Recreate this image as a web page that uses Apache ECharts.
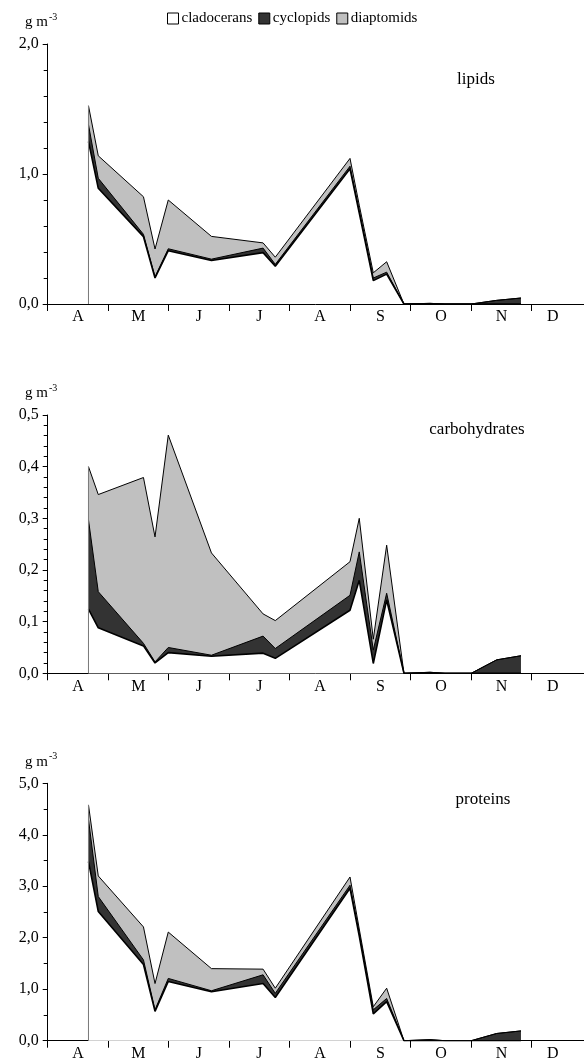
<!DOCTYPE html>
<html>
<head>
<meta charset="utf-8">
<script src="https://cdn.jsdelivr.net/npm/echarts@6/dist/echarts.min.js"></script>
<style>
  html, body { margin: 0; padding: 0; background: #fff; }
  #chart { width: 584px; height: 1062px; }
</style>
</head>
<body>
<div id="chart"></div>
<script>
// ---- data ----
const months = ['A', 'M', 'J', 'J', 'A', 'S', 'O', 'N', 'D'];
// sampling dates, in months since 1 April
const dates = [0.674, 0.836, 1.583, 1.774, 1.993, 2.707, 3.56, 3.762, 4.997, 5.15, 5.382, 5.603, 5.889, 6.319, 6.567, 7.0, 7.421, 7.823];

const groups = ['cladocerans', 'cyclopids', 'diaptomids'];

// lipids, g m-3
const lipidsClad = [1.25, 0.89, 0.518, 0.20, 0.41, 0.335, 0.395, 0.29, 1.04, 0.70, 0.18, 0.23, 0, 0, 0, 0, 0, 0];
const lipidsCycl = [0.13, 0.077, 0.018, 0.01, 0.015, 0.01, 0.035, 0.015, 0.02, 0.02, 0.02, 0.015, 0, 0.005, 0, 0, 0.028, 0.046];
const lipidsDiap = [0.145, 0.173, 0.289, 0.213, 0.375, 0.175, 0.04, 0.055, 0.06, 0.04, 0.04, 0.08, 0, 0, 0, 0, 0, 0];

// carbohydrates, g m-3
const carbClad = [0.124, 0.088, 0.053, 0.02, 0.040, 0.033, 0.039, 0.029, 0.122, 0.18, 0.019, 0.142, 0, 0, 0, 0, 0, 0];
const carbCycl = [0.173, 0.07, 0.005, 0.002, 0.010, 0.002, 0.033, 0.019, 0.029, 0.055, 0.026, 0.013, 0, 0.002, 0, 0, 0.026, 0.034];
const carbDiap = [0.103, 0.188, 0.321, 0.242, 0.411, 0.198, 0.043, 0.054, 0.065, 0.065, 0.021, 0.093, 0, 0, 0, 0, 0, 0];

// proteins, g m-3
const protClad = [3.48, 2.51, 1.48, 0.57, 1.15, 0.95, 1.11, 0.84, 2.96, 2.03, 0.52, 0.76, 0, 0, 0, 0, 0, 0];
const protCycl = [0.82, 0.29, 0.09, 0.03, 0.06, 0.02, 0.17, 0.08, 0.06, 0.06, 0.08, 0.06, 0, 0.02, 0, 0, 0.14, 0.19];
const protDiap = [0.28, 0.40, 0.64, 0.51, 0.90, 0.43, 0.11, 0.10, 0.16, 0.08, 0.06, 0.20, 0, 0, 0, 0, 0, 0];

// axis settings
const yMax = [2, 0.5, 5];
const yStep = [1, 0.1, 1];
const yMinorSplit = [5, 5, 2];
const panelNames = ['lipids', 'carbohydrates', 'proteins'];

// ---- styles ----
const FONT = 'Liberation Serif';
const fills = { cladocerans: '#ffffff', cyclopids: '#333333', diaptomids: '#c0c0c0' };
const gridTops = [44, 415, 783.3];
const gridHeights = [260, 258.3, 257.4];
const GRID_LEFT = 47.7;
const X_MAX = 8.86;
const GRID_W = 536;

const panels = [
  [lipidsClad, lipidsCycl, lipidsDiap],
  [carbClad, carbCycl, carbDiap],
  [protClad, protCycl, protDiap]
];

const grids = [], xAxes = [], yAxes = [], series = [], graphics = [];

panels.forEach((p, k) => {
  grids.push({ left: GRID_LEFT, top: gridTops[k], width: GRID_W, height: gridHeights[k] });
  const tickVals = months.map((m, i) => i);
  const labelVals = months.map((m, i) => (i < months.length - 1 ? i + 0.5 : i + 0.35));
  xAxes.push({
    type: 'value', gridIndex: k, min: 0, max: X_MAX,
    axisLine: { show: true, lineStyle: { color: '#000', width: 1 } },
    axisTick: { show: true, customValues: tickVals, length: 7, lineStyle: { color: '#000' } },
    axisLabel: {
      customValues: labelVals, margin: 5,
      formatter: v => months[Math.floor(v)],
      fontFamily: FONT, fontSize: 16, color: '#000'
    },
    splitLine: { show: false }
  });
  yAxes.push({
    type: 'value', gridIndex: k, min: 0, max: yMax[k], interval: yStep[k],
    axisLine: { show: true, lineStyle: { color: '#000', width: 1 } },
    axisTick: { show: true, length: 5, lineStyle: { color: '#000' } },
    minorTick: { show: true, splitNumber: yMinorSplit[k], length: 4, lineStyle: { color: '#000' } },
    axisLabel: {
      formatter: v => v.toFixed(1).replace('.', ','),
      margin: 9, fontFamily: FONT, fontSize: 16, color: '#000'
    },
    splitLine: { show: false }, minorSplitLine: { show: false }
  });

  const [clad, cycl, diap] = p;
  const cumClad = clad.slice();
  const cumCycl = clad.map((v, i) => v + cycl[i]);
  const cumTot = cumCycl.map((v, i) => v + diap[i]);
  const toPts = arr => dates.map((d, i) => [d, arr[i]]);

  const layers = [
    ['diaptomids', cumTot, 1],
    ['cyclopids', cumCycl, 1],
    ['cladocerans', cumClad, 1.6]
  ];
  layers.forEach(([name, arr, w]) => {
    series.push({
      name, type: 'line', xAxisIndex: k, yAxisIndex: k,
      data: toPts(arr), symbol: 'none', silent: true,
      lineStyle: { color: '#000', width: w },
      itemStyle: { color: fills[name] },
      areaStyle: { color: fills[name], opacity: 1 }
    });
  });
  // left edge of first sample
  series.push({
    name: 'edge' + k, type: 'line', xAxisIndex: k, yAxisIndex: k,
    data: [[dates[0], 0], [dates[0], cumTot[0]]], symbol: 'none', silent: true,
    lineStyle: { color: '#7a7a7a', width: 1 }
  });

  // panel title
  graphics.push({
    type: 'text', x: [476, 477, 483][k], y: [80, 430, 800][k],
    style: { text: panelNames[k], font: '17px "' + FONT + '"', fill: '#000', textAlign: 'center', textVerticalAlign: 'middle' }
  });
  // unit label
  graphics.push({
    type: 'text', x: 25, y: gridTops[k] - 23,
    style: {
      text: '{a|g m}{b|-3}', fill: '#000',
      rich: {
        a: { fontFamily: FONT, fontSize: 15, fill: '#000', verticalAlign: 'bottom' },
        b: { fontFamily: FONT, fontSize: 10, fill: '#000', verticalAlign: 'top', padding: [0, 0, 8, 1] }
      },
      textVerticalAlign: 'middle'
    }
  });
});

const chart = echarts.init(document.getElementById('chart'), null, { renderer: 'canvas' });
chart.setOption({
  animation: false,
  backgroundColor: '#fff',
  legend: {
    left: 162, top: 6, itemWidth: 11, itemHeight: 11, itemGap: 6,
    selectedMode: false,
    textStyle: { fontFamily: FONT, fontSize: 15, color: '#000', padding: [0, 0, 0, -2] },
    data: groups.map(g => ({
      name: g, icon: 'rect',
      itemStyle: { color: fills[g], borderColor: '#000', borderWidth: 1 }
    }))
  },
  grid: grids,
  xAxis: xAxes,
  yAxis: yAxes,
  series,
  graphic: graphics
});
</script>
</body>
</html>
